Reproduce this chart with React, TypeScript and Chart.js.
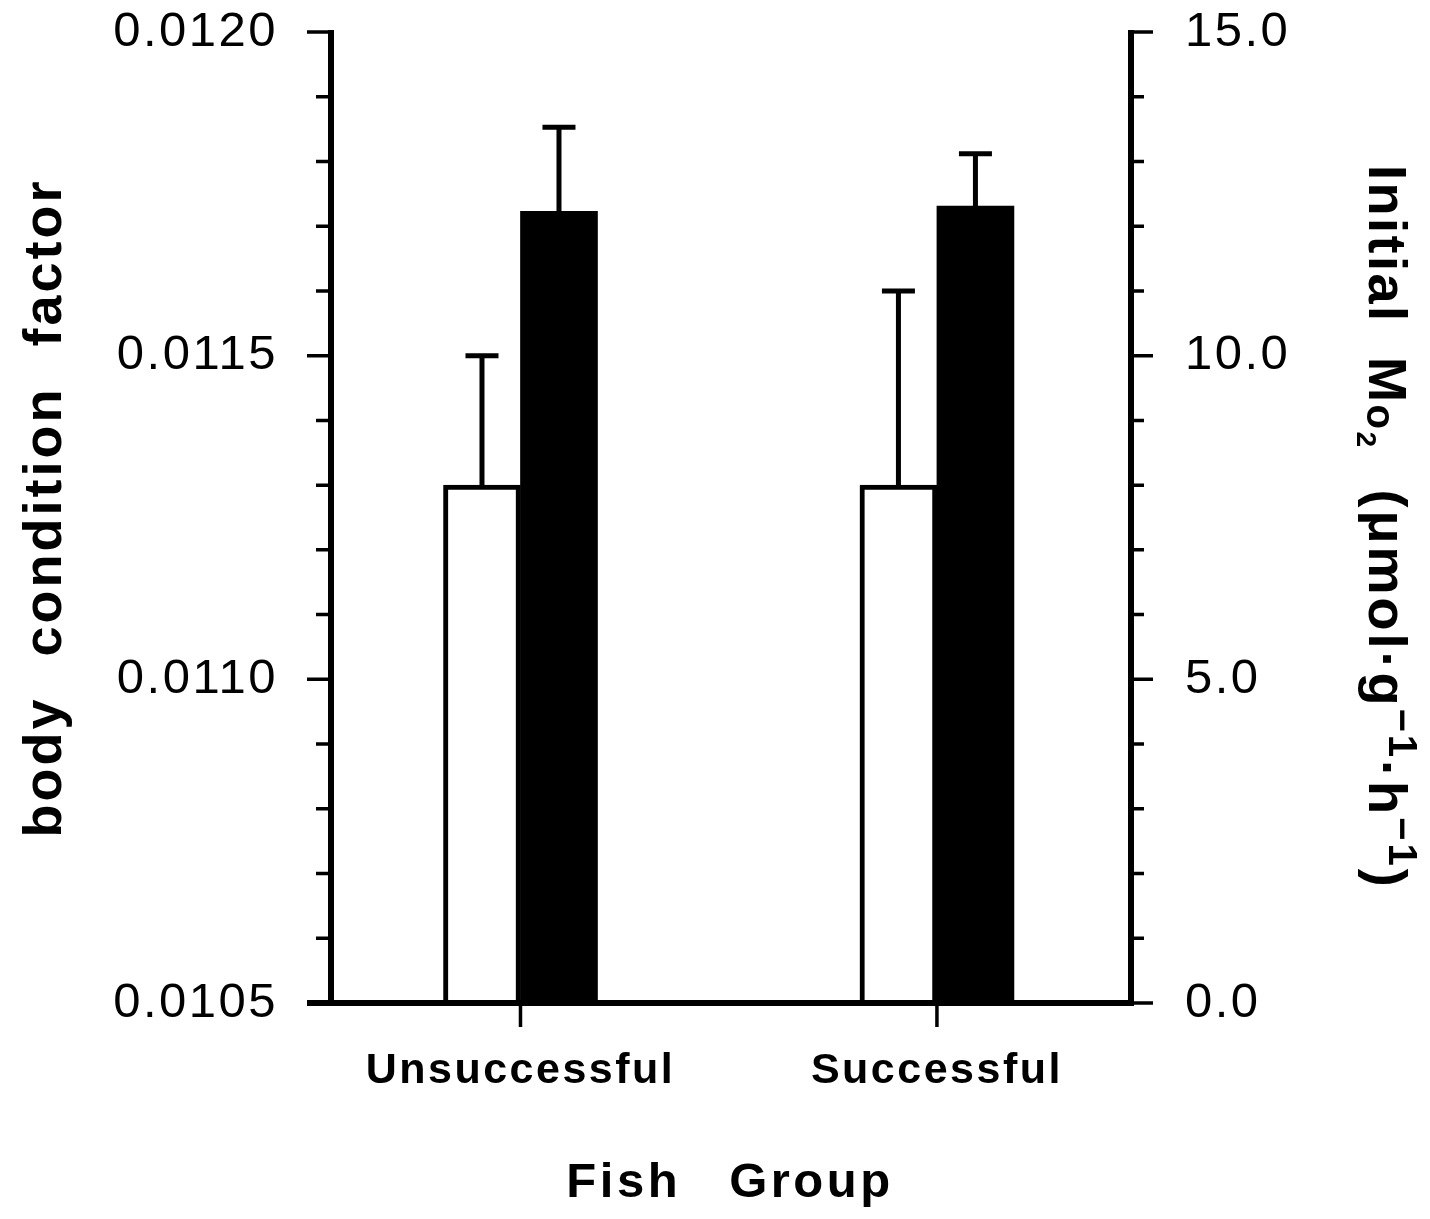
import React, { useEffect, useRef } from 'react';
import { Chart, registerables } from 'chart.js';

Chart.register(...registerables);

// ---- data ----
const categories = ['Unsuccessful', 'Successful'];
const categoryPositions = [1, 2];
const conditionFactor = [0.0113, 0.0113];
const conditionSE = [0.0002, 0.0003];
const initialMO2 = [12.23, 12.31];
const mo2SE = [1.3, 0.81];

const leftTicks = [0.0105, 0.011, 0.0115, 0.012];
const leftTickLabels = ['0.0105', '0.0110', '0.0115', '0.0120'];
const rightTicks = [0, 5, 10, 15];
const rightTickLabels = ['0.0', '5.0', '10.0', '15.0'];
const leftMinorStep = 0.0001;
const rightMinorStep = 1;

const xTitle = 'Fish Group';
const leftTitle = 'body condition factor';
const rightTitleTexts = ['Initial M', 'o', '2', ' (μmol·g', '−1', '·h', '−1', ')'];

const FONT = '"Liberation Sans", Arial, Helvetica, sans-serif';

const spacingPlugin = {
  id: 'spacing',
  beforeDraw(chart: any) {
    chart.ctx.letterSpacing = '2.5px';
  },
};

const decorPlugin = {
  id: 'decor',
  afterDatasetsDraw(chart: any) {
    const ctx = chart.ctx;
    ctx.save();
    ctx.strokeStyle = '#000';
    ctx.lineWidth = 5;
    ctx.lineCap = 'butt';
    const errs = [conditionSE, mo2SE];
    const vals = [conditionFactor, initialMO2];
    chart.data.datasets.forEach((ds: any, i: number) => {
      const meta = chart.getDatasetMeta(i);
      const scale = chart.scales[ds.yAxisID];
      meta.data.forEach((bar: any, j: number) => {
        const cx = bar.x;
        const top = bar.y;
        const et = scale.getPixelForValue(vals[i][j] + errs[i][j]);
        ctx.beginPath();
        ctx.moveTo(cx, top);
        ctx.lineTo(cx, et);
        ctx.moveTo(cx - 16.5, et);
        ctx.lineTo(cx + 16.5, et);
        ctx.stroke();
      });
    });
    ctx.restore();
  },
  afterDraw(chart: any) {
    const { ctx, chartArea: ca, scales } = chart;
    const x = scales.x;
    const y = scales.y;
    const y1 = scales.y1;
    ctx.save();
    ctx.letterSpacing = '0px';
    ctx.strokeStyle = '#000';
    ctx.fillStyle = '#000';
    ctx.lineCap = 'butt';
    // axis lines
    ctx.lineWidth = 6;
    ctx.beginPath();
    ctx.moveTo(ca.left, ca.top - 2);
    ctx.lineTo(ca.left, ca.bottom + 3);
    ctx.moveTo(ca.right, ca.top - 2);
    ctx.lineTo(ca.right, ca.bottom + 3);
    ctx.moveTo(ca.left - 24, ca.bottom);
    ctx.lineTo(ca.right + 3, ca.bottom);
    ctx.stroke();
    // ticks
    ctx.lineWidth = 3.5;
    ctx.beginPath();
    const nL = Math.round((y.max - y.min) / leftMinorStep);
    for (let k = 0; k <= nL; k++) {
      const py = y.getPixelForValue(y.min + k * leftMinorStep);
      const len = k % 5 === 0 ? 24 : 15;
      ctx.moveTo(ca.left - len, py);
      ctx.lineTo(ca.left, py);
    }
    const nR = Math.round((y1.max - y1.min) / rightMinorStep);
    for (let k = 0; k <= nR; k++) {
      const py = y1.getPixelForValue(y1.min + k * rightMinorStep);
      const len = k % 5 === 0 ? 22 : 13;
      ctx.moveTo(ca.right, py);
      ctx.lineTo(ca.right + len, py);
    }
    categoryPositions.forEach((p) => {
      const px = x.getPixelForValue(p);
      ctx.moveTo(px, ca.bottom);
      ctx.lineTo(px, ca.bottom + 24);
    });
    ctx.stroke();

    // x title
    ctx.font = `bold 49px ${FONT}`;
    ctx.letterSpacing = '3.5px';
    ctx.wordSpacing = '31px';
    ctx.textAlign = 'center';
    ctx.textBaseline = 'alphabetic';
    ctx.fillText(xTitle, 730, 1197);

    // left title
    ctx.save();
    ctx.font = `bold 54px ${FONT}`;
    ctx.letterSpacing = '3px';
    ctx.wordSpacing = '22px';
    ctx.translate(61, 508);
    ctx.rotate(-Math.PI / 2);
    ctx.textAlign = 'center';
    ctx.fillText(leftTitle, 0, 0);
    ctx.restore();

    // right title
    ctx.save();
    const sizes = [54, 40, 28, 54, 40, 54, 40, 54];
    const shifts = [0, 2, 12, 0, -20, 0, -20, 0];
    const spacings = [2.5, 2.5, 2.5, 3, 3, 3, 3, 3];
    const gapBefore = [0, 0, 0, 22, 0, 0, 0, 0];
    ctx.wordSpacing = '16px';
    ctx.translate(1369, 165);
    ctx.rotate(Math.PI / 2);
    ctx.textAlign = 'left';
    let cx = 0;
    rightTitleTexts.forEach((t, i) => {
      ctx.font = `bold ${sizes[i]}px ${FONT}`;
      ctx.letterSpacing = `${spacings[i]}px`;
      cx += gapBefore[i];
      ctx.fillText(t, cx, shifts[i]);
      cx += ctx.measureText(t).width;
    });
    ctx.restore();

    ctx.restore();
  },
};

const zeroPad = (scale: any) => {
  scale.paddingTop = 0;
  scale.paddingBottom = 0;
  scale.paddingLeft = 0;
  scale.paddingRight = 0;
};

export default function App() {
  const ref = useRef<HTMLCanvasElement | null>(null);
  useEffect(() => {
    const canvas = ref.current;
    if (!canvas) return;
    const chart = new Chart(canvas, {
      type: 'bar',
      data: {
        datasets: [
          {
            label: 'body condition factor',
            data: categoryPositions.map((p, i) => ({ x: p, y: conditionFactor[i] })),
            backgroundColor: '#ffffff',
            borderColor: '#000000',
            borderWidth: 5,
            borderSkipped: 'bottom',
            barThickness: 77,
            yAxisID: 'y',
            xAxisID: 'x',
            stack: 's1',
          },
          {
            label: 'Initial MO2',
            data: categoryPositions.map((p, i) => ({ x: p, y: initialMO2[i] })),
            backgroundColor: '#000000',
            borderWidth: 0,
            barThickness: 77,
            yAxisID: 'y1',
            xAxisID: 'x',
            stack: 's2',
          },
        ],
      },
      options: {
        responsive: false,
        animation: false,
        devicePixelRatio: 1,
        layout: { padding: { top: 32, left: 0, right: 0, bottom: 0 } },
        plugins: { legend: { display: false }, tooltip: { enabled: false }, title: { display: false } },
        scales: {
          x: {
            type: 'linear',
            min: 0.545,
            max: 2.466,
            offset: false,
            grid: { display: false, drawTicks: false, tickLength: 0, offset: false },
            border: { display: false },
            afterBuildTicks: (scale: any) => {
              scale.ticks = categoryPositions.map((v) => ({ value: v }));
            },
            afterFit: (scale: any) => {
              scale.height = 216;
              zeroPad(scale);
            },
            ticks: {
              autoSkip: false,
              maxRotation: 0,
              minRotation: 0,
              padding: 42,
              color: '#000',
              font: { family: FONT, size: 43, weight: 'bold' },
              callback: (v: any) => categories[categoryPositions.indexOf(Number(v))] ?? '',
            },
          },
          y: {
            type: 'linear',
            position: 'left',
            min: 0.0105,
            max: 0.012,
            beginAtZero: false,
            grid: { display: false, drawTicks: false, tickLength: 0 },
            border: { display: false },
            afterBuildTicks: (scale: any) => {
              scale.ticks = leftTicks.map((v) => ({ value: v }));
            },
            afterFit: (scale: any) => {
              scale.width = 331;
              zeroPad(scale);
            },
            ticks: {
              padding: 53,
              color: '#000',
              font: { family: FONT, size: 49, weight: 'normal' },
              callback: (v: any) => {
                const i = leftTicks.findIndex((t) => Math.abs(t - Number(v)) < 1e-9);
                return i >= 0 ? leftTickLabels[i] : '';
              },
            },
          },
          y1: {
            type: 'linear',
            position: 'right',
            min: 0,
            max: 15,
            beginAtZero: false,
            grid: { display: false, drawTicks: false, tickLength: 0 },
            border: { display: false },
            afterBuildTicks: (scale: any) => {
              scale.ticks = rightTicks.map((v) => ({ value: v }));
            },
            afterFit: (scale: any) => {
              scale.width = 299;
              zeroPad(scale);
            },
            ticks: {
              padding: 54,
              color: '#000',
              font: { family: FONT, size: 49, weight: 'normal' },
              callback: (v: any) => {
                const i = rightTicks.findIndex((t) => Math.abs(t - Number(v)) < 1e-9);
                return i >= 0 ? rightTickLabels[i] : '';
              },
            },
          },
        },
      },
      plugins: [spacingPlugin, decorPlugin],
    } as any);
    return () => chart.destroy();
  }, []);

  return (
    <div style={{ position: 'absolute', left: 0, top: 0, width: 1430, height: 1219, background: '#fff' }}>
      <canvas ref={ref} width={1430} height={1219} style={{ display: 'block', width: 1430, height: 1219 }} />
    </div>
  );
}
